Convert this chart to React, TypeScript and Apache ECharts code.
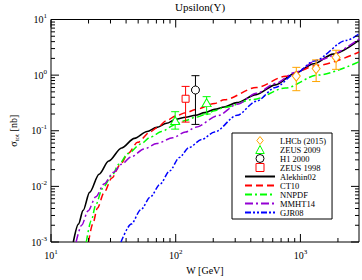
import React, { useEffect, useRef } from 'react';
import * as echarts from 'echarts';

const FONT = "'Liberation Serif', 'Times New Roman', serif";

const W_MIN = 10;
const W_MAX = 2950;
const S_MIN = 0.001;
const S_MAX = 10;

// tick values
const xMajorTicks = [10, 100, 1000];
const xMinorTicks = [20, 30, 40, 50, 60, 70, 80, 90, 200, 300, 400, 500, 600, 700, 800, 900, 2000];
const yMajorTicks = [0.001, 0.01, 0.1, 1, 10];
const yMinorTicks = [
  0.002, 0.003, 0.004, 0.005, 0.006, 0.007, 0.008, 0.009,
  0.02, 0.03, 0.04, 0.05, 0.06, 0.07, 0.08, 0.09,
  0.2, 0.3, 0.4, 0.5, 0.6, 0.7, 0.8, 0.9,
  2, 3, 4, 5, 6, 7, 8, 9,
];

// theory curves
const alekhinW = [15.1, 16.6, 18.1, 20.4, 24.3, 29, 36.8, 46.7, 59, 70.6, 84.5, 100, 120, 144, 171, 205, 245, 309, 441, 630, 899, 1282, 1832, 2950];
const alekhinS = [0.001, 0.0021, 0.0037, 0.0078, 0.0165, 0.0285, 0.049, 0.073, 0.097, 0.115, 0.136, 0.16, 0.175, 0.19, 0.212, 0.242, 0.267, 0.32, 0.447, 0.668, 1.07, 1.6, 2.39, 4.25];

const ct10W = [20.0, 21.6, 23.6, 26.6, 30.8, 35.7, 41.5, 49.5, 62.8, 70.6, 84.5, 100, 120, 144, 205, 245, 444, 757, 1371, 2950];
const ct10S = [0.001, 0.0021, 0.0041, 0.0077, 0.0142, 0.024, 0.039, 0.062, 0.096, 0.113, 0.152, 0.185, 0.21, 0.24, 0.31, 0.36, 0.6, 0.95, 1.5, 2.6];

const nnpdfW = [19.2, 21, 22.9, 25.8, 30.8, 35, 41.5, 52.5, 62.8, 77, 100, 120, 144, 171, 205, 245, 419, 757, 1371, 2950];
const nnpdfS = [0.001, 0.0024, 0.0047, 0.0091, 0.0156, 0.025, 0.039, 0.058, 0.077, 0.097, 0.13, 0.153, 0.175, 0.192, 0.229, 0.262, 0.366, 0.586, 1.0, 1.74];

const mmhtW = [15.9, 17.6, 19.8, 22.9, 26.6, 31.8, 36.8, 44, 55.8, 70.6, 95, 120, 144, 218, 311, 444, 631, 904, 1371, 2950];
const mmhtS = [0.001, 0.002, 0.0036, 0.0065, 0.011, 0.018, 0.025, 0.034, 0.047, 0.059, 0.075, 0.095, 0.115, 0.187, 0.3, 0.47, 0.71, 1.12, 1.85, 4.45];

const gjrW = [36.4, 44, 52.5, 62.8, 75, 89.5, 107, 128, 162, 205, 311, 444, 631, 904, 1289, 2333, 2950];
const gjrS = [0.001, 0.0021, 0.0038, 0.0065, 0.011, 0.019, 0.033, 0.05, 0.07, 0.095, 0.19, 0.34, 0.6, 1.05, 1.8, 4.2, 5.5];

// data points
const lhcbW = [927, 1337, 1932];
const lhcbS = [0.96, 1.31, 2.08];
const lhcbLo = [0.525, 0.767, 1.27];
const lhcbHi = [1.38, 1.88, 2.8];

const zeus09W = [99, 177];
const zeus09S = [0.153, 0.32];
const zeus09Lo = [0.107, 0.2];
const zeus09Hi = [0.22, 0.41];

const h1W = [144];
const h1S = [0.54];
const h1Lo = [0.13];
const h1Hi = [0.977];

const zeus98W = [120];
const zeus98S = [0.376];
const zeus98Lo = [0.143];
const zeus98Hi = [0.627];

const pointNames = ['LHCb (2015)', 'ZEUS 2009', 'H1 2000', 'ZEUS 1998'];
const curveNames = ['Alekhin02', 'CT10', 'NNPDF', 'MMHT14', 'GJR08'];

const zip = (a: number[], b: number[]) => a.map((v, i) => [v, b[i]]);

function tickSeries(name: string, values: number[], len: number, dir: 'x' | 'y') {
  return {
    type: 'custom',
    name,
    silent: true,
    clip: false,
    z: 6,
    data: values.map((v) => (dir === 'x' ? [v, S_MIN] : [W_MIN, v])),
    renderItem: (_p: any, api: any) => {
      const style = { stroke: '#000', lineWidth: 1 };
      if (dir === 'x') {
        const b = api.coord([api.value(0), S_MIN]);
        const t = api.coord([api.value(0), S_MAX]);
        return {
          type: 'group',
          children: [
            { type: 'line', shape: { x1: b[0], y1: b[1], x2: b[0], y2: b[1] - len }, style },
            { type: 'line', shape: { x1: t[0], y1: t[1], x2: t[0], y2: t[1] + len }, style },
          ],
        };
      }
      const l = api.coord([W_MIN, api.value(1)]);
      const r = api.coord([W_MAX, api.value(1)]);
      return {
        type: 'group',
        children: [
          { type: 'line', shape: { x1: l[0], y1: l[1], x2: l[0] + len, y2: l[1] }, style },
          { type: 'line', shape: { x1: r[0], y1: r[1], x2: r[0] - len, y2: r[1] }, style },
        ],
      };
    },
  };
}

function errSeries(name: string, w: number[], s: number[], lo: number[], hi: number[], color: string) {
  return {
    type: 'custom',
    name,
    silent: true,
    z: 4,
    data: w.map((v, i) => [v, s[i], lo[i], hi[i]]),
    renderItem: (_p: any, api: any) => {
      const x = api.value(0);
      const a = api.coord([x, api.value(2)]);
      const b = api.coord([x, api.value(3)]);
      const style = { stroke: color, lineWidth: 1 };
      const c = 4;
      return {
        type: 'group',
        children: [
          { type: 'line', shape: { x1: a[0], y1: a[1], x2: b[0], y2: b[1] }, style },
          { type: 'line', shape: { x1: a[0] - c, y1: a[1], x2: a[0] + c, y2: a[1] }, style },
          { type: 'line', shape: { x1: b[0] - c, y1: b[1], x2: b[0] + c, y2: b[1] }, style },
        ],
      };
    },
  };
}

function lineSeries(name: string, w: number[], s: number[], color: string, type: any, width = 1.5) {
  return {
    type: 'line',
    name,
    data: zip(w, s),
    symbol: 'none',
    smooth: 0.3,
    smoothMonotone: 'x',
    z: 3,
    itemStyle: { color },
    lineStyle: { color, width, type },
  };
}

function pointSeries(name: string, w: number[], s: number[], color: string, symbol: string, size: any) {
  return {
    type: 'scatter',
    name,
    data: zip(w, s),
    symbol,
    symbolSize: size,
    z: 5,
    itemStyle: { color: '#fff', borderColor: color, borderWidth: 1, opacity: 1 },
  };
}

const supLabel = (v: number) => {
  const lg = Math.log10(v);
  const e = Math.round(lg);
  if (Math.abs(lg - e) > 1e-6) return '';
  return `{b|10}{s|${e}}`;
};

const labelRich = {
  b: { fontSize: 10, lineHeight: 14, fontFamily: FONT, color: '#000' },
  s: { fontSize: 7, lineHeight: 6, verticalAlign: 'top', fontFamily: FONT, color: '#000' },
};

export default function App() {
  const ref = useRef<HTMLDivElement>(null);
  useEffect(() => {
    if (!ref.current) return;
    const chart = echarts.init(ref.current, undefined, { renderer: 'svg' });
    const ORANGE = '#ffa500';
    const GREEN = '#00ff00';
    const RED = '#ff0000';
    const PURPLE = '#9400d3';
    const BLUE = '#0000ff';
    const pointIcons = [
      'path://M0,-5L4,0L0,5L-4,0Z',
      'path://M0,-4.5L4.5,4L-4.5,4Z',
      'path://M0,-4A4,4 0 1,1 0,4A4,4 0 1,1 0,-4Z',
      'path://M-3.5,-3.5L3.5,-3.5L3.5,3.5L-3.5,3.5Z',
    ];
    const pointColors = [ORANGE, GREEN, '#000', RED];
    chart.setOption({
      animation: false,
      backgroundColor: '#fff',
      grid: { left: 40, right: 2, top: 19.5, bottom: 31.7, show: true, borderColor: '#000', borderWidth: 1, backgroundColor: 'transparent' },
      graphic: [
        {
          type: 'text',
          x: 200,
          y: 1,
          style: { text: 'Upsilon(Υ)', align: 'center', verticalAlign: 'top', font: `11px ${FONT}`, fill: '#000' },
        },
      ],
      legend: {
        orient: 'vertical',
        left: 232,
        top: 133,
        backgroundColor: '#fff',
        borderColor: '#000',
        borderWidth: 1,
        borderRadius: 0,
        padding: [3, 6, 2, 12],
        itemGap: 0,
        itemWidth: 30,
        itemHeight: 8,
        symbolKeepAspect: true,
        selectedMode: false,
        textStyle: { fontFamily: FONT, fontSize: 8.5, color: '#000' },
        data: [
          ...pointNames.map((name, i) => ({
            name,
            icon: pointIcons[i],
            itemStyle: { color: '#fff', borderColor: pointColors[i], borderWidth: 1 },
          })),
          ...curveNames.map((name) => ({ name, itemStyle: { opacity: 0 } })),
        ],
      },
      xAxis: {
        type: 'log',
        logBase: 10,
        min: W_MIN,
        max: W_MAX,
        name: 'W [GeV]',
        nameLocation: 'middle',
        nameGap: 23,
        nameTextStyle: { fontFamily: FONT, fontSize: 10, color: '#000' },
        axisLine: { show: false },
        axisTick: { show: false },
        splitLine: { show: false },
        minorTick: { show: false },
        axisLabel: { formatter: supLabel, margin: 6, rich: labelRich, color: '#000' },
      },
      yAxis: {
        type: 'log',
        logBase: 10,
        min: S_MIN,
        max: S_MAX,
        name: '{a|σ}{t|tot}{a| [nb]}',
        nameLocation: 'middle',
        nameGap: 31,
        nameRotate: 90,
        nameTextStyle: {
          fontFamily: FONT,
          color: '#000',
          rich: {
            a: { fontSize: 10, lineHeight: 14, fontFamily: FONT, color: '#000' },
            t: { fontSize: 7, lineHeight: 6, verticalAlign: 'bottom', fontFamily: FONT, color: '#000' },
          },
        },
        axisLine: { show: false },
        axisTick: { show: false },
        splitLine: { show: false },
        minorTick: { show: false },
        axisLabel: { formatter: supLabel, margin: 4, rich: labelRich, color: '#000' },
      },
      series: [
        tickSeries('xMajor', xMajorTicks, 8, 'x'),
        tickSeries('xMinor', xMinorTicks, 4, 'x'),
        tickSeries('yMajor', yMajorTicks, 8, 'y'),
        tickSeries('yMinor', yMinorTicks, 4, 'y'),
        lineSeries('Alekhin02', alekhinW, alekhinS, '#000', 'solid', 1.6),
        lineSeries('CT10', ct10W, ct10S, RED, [7, 4]),
        lineSeries('NNPDF', nnpdfW, nnpdfS, GREEN, [7, 3, 2, 3]),
        lineSeries('MMHT14', mmhtW, mmhtS, PURPLE, [8, 3, 2, 3]),
        lineSeries('GJR08', gjrW, gjrS, BLUE, [6, 2, 2, 2, 2, 2]),
        errSeries('errLHCb', lhcbW, lhcbS, lhcbLo, lhcbHi, ORANGE),
        errSeries('errZEUS09', zeus09W, zeus09S, zeus09Lo, zeus09Hi, GREEN),
        errSeries('errH1', h1W, h1S, h1Lo, h1Hi, '#000'),
        errSeries('errZEUS98', zeus98W, zeus98S, zeus98Lo, zeus98Hi, RED),
        pointSeries(pointNames[0], lhcbW, lhcbS, ORANGE, 'diamond', [8, 10]),
        pointSeries(pointNames[1], zeus09W, zeus09S, GREEN, 'triangle', [9, 8]),
        pointSeries(pointNames[2], h1W, h1S, '#000', 'circle', 8),
        pointSeries(pointNames[3], zeus98W, zeus98S, RED, 'rect', 7),
      ],
    });
    return () => chart.dispose();
  }, []);
  return <div ref={ref} style={{ position: 'absolute', left: 0, top: 0, width: 362, height: 280 }} />;
}
